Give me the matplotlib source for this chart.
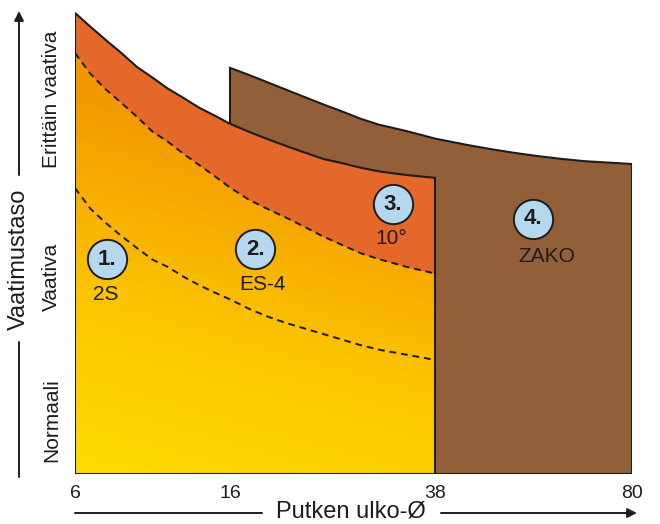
import numpy as np
import matplotlib
matplotlib.use("Agg")
from matplotlib import pyplot as plt
from matplotlib.patches import Polygon
from matplotlib.colors import LinearSegmentedColormap

plt.rcParams['font.family'] = ['Liberation Sans', 'DejaVu Sans']

# pipe outer diameter ticks and their spacing on the original axis
diam_ticks = [6, 16, 38, 80]
tick_spacing = [0, 155, 360, 557]

# left (orange) region: methods 1-3
orange_d = [6, 7, 8, 9, 10, 11, 12, 13, 14, 15, 16, 18, 20, 22, 24, 26, 28, 30, 32, 35, 38]
top_curve = [99.8, 96.8, 93.9, 91.1, 88.1, 85.8, 83.4, 81.4, 79.3, 77.6, 75.8,
             74.1, 72.5, 71.0, 69.6, 68.2, 67.3, 66.3, 65.5, 64.7, 64.1]
es4_curve = [91.1, 86.6, 83.2, 80.3, 77.3, 74.1, 71.9, 69.3, 66.9, 64.5, 62.0,
             59.4, 57.4, 55.5, 53.5, 51.4, 49.6, 47.8, 46.5, 44.8, 43.4]
s2_curve = [61.9, 57.4, 54.3, 51.5, 48.9, 46.4, 44.8, 42.7, 40.9, 39.3, 37.8,
            35.8, 34.1, 32.7, 31.5, 30.3, 29.1, 27.9, 26.9, 25.8, 24.7]

# right (brown) region: method 4
zako_d = [16, 18, 20, 22, 24, 26, 28, 30, 32, 35, 38, 42, 45, 50, 55, 60, 65, 70, 75, 80]
zako_top = [87.9, 86.4, 84.8, 83.2, 81.6, 80.0, 78.5, 76.9, 75.6, 74.2, 72.6,
            71.8, 71.2, 70.3, 69.5, 68.8, 68.2, 67.7, 67.4, 67.1]

# requirement levels
level_names = ['Normaali', 'Vaativa', 'Erittäin vaativa']
level_pos = [11.7, 42.6, 81.2]

# method markers: number, name, diameter, level
method_num = ['1.', '2.', '3.', '4.']
method_name = ['2S', 'ES-4', '10°', 'ZAKO']
method_d = [8.05, 18.7, 33.5, 58.8]
method_y = [46.5, 48.7, 58.4, 55.2]
name_d = [7.97, 19.5, 33.35, 61.8]
name_y = [38.9, 41.1, 50.9, 47.0]

ink = '#1e1c1d'


def fwd(x):
    return np.interp(x, diam_ticks, tick_spacing)


def inv(x):
    return np.interp(x, tick_spacing, diam_ticks)


fig = plt.figure(figsize=(6.6, 5.24), dpi=100)
ax = fig.add_axes([75/660, 50/524, 557/660, 462/524])
ax.set_xscale('function', functions=(fwd, inv))
ax.set_xlim(6, 80)
ax.set_ylim(0, 100)
for s in ax.spines.values():
    s.set_visible(False)

# brown ZAKO region
brown_xy = [(zako_d[0], 0)] + list(zip(zako_d, zako_top)) + [(zako_d[-1], 0)]
brown = Polygon(brown_xy, closed=True, facecolor='#935f38', edgecolor=ink,
                lw=1.5, joinstyle='miter', zorder=1)
ax.add_patch(brown)

# orange region with gradient
orange_xy = [(orange_d[0], 0)] + list(zip(orange_d, top_curve)) + [(orange_d[-1], 0)]
orange = Polygon(orange_xy, closed=True, facecolor='none', edgecolor='none', zorder=2)
ax.add_patch(orange)

ny, nx = 200, 200
u = np.linspace(0, 1, nx)[None, :] / 0.646
v = np.linspace(0, 1, ny)[:, None]
t = np.clip(0.82 * (1 - v) + 0.18 * (1 - u), 0, 1)
cmap = LinearSegmentedColormap.from_list('og', ['#ee8200', '#f39a00', '#fcc400', '#ffdc00'])
im = ax.imshow(t, cmap=cmap, vmin=0, vmax=1, origin='lower', extent=[0, 1, 0, 1],
               transform=ax.transAxes, aspect='auto', zorder=2, interpolation='bilinear')
im.set_clip_path(orange)

# 10° band
ax.fill_between(orange_d, es4_curve, top_curve, color='#e4682a', lw=0, zorder=3)

# dashed borders
ax.plot(orange_d, es4_curve, color=ink, lw=1.4, ls=(0, (3.5, 2.5)), zorder=4)
ax.plot(orange_d, s2_curve, color=ink, lw=1.4, ls=(0, (3.5, 2.5)), zorder=4)

outline = Polygon(orange_xy, closed=True, facecolor='none', edgecolor=ink,
                  lw=1.5, joinstyle='miter', zorder=4)
ax.add_patch(outline)

# method markers
ax.scatter(method_d, method_y, s=800, facecolor='#b5d8ee', edgecolor=ink,
           linewidth=1.4, zorder=5, clip_on=False)
for num, d, y in zip(method_num, method_d, method_y):
    ax.text(d, y, num, ha='center', va='center', fontsize=16, fontweight='bold',
            color=ink, zorder=6)
for name, d, y in zip(method_name, name_d, name_y):
    ax.text(d, y, name, ha='center', va='center', fontsize=15, color=ink, zorder=6)

# ticks
ax.set_xticks(diam_ticks)
ax.set_xticklabels([str(d) for d in diam_ticks])
ax.xaxis.set_minor_locator(matplotlib.ticker.NullLocator())
ax.tick_params(axis='x', length=0, pad=8, labelsize=14, labelcolor=ink)
ax.set_yticks(level_pos)
ax.set_yticklabels(level_names, rotation=90, va='center')
ax.tick_params(axis='y', length=0, pad=10, labelsize=15, labelcolor=ink)

# axis arrows and titles
arr = dict(arrowstyle='-|>', lw=1.4, color=ink, mutation_scale=14, shrinkA=0, shrinkB=0)
line = dict(arrowstyle='-', lw=1.4, color=ink, shrinkA=0, shrinkB=0)
ax.annotate('', xy=(19, 182), xytext=(19, 47), xycoords='figure pixels', arrowprops=line)
ax.annotate('', xy=(19, 513), xytext=(19, 349), xycoords='figure pixels', arrowprops=arr)
fig.text(19/660, 265/524, 'Vaatimustaso', rotation=90, ha='center', va='center',
         fontsize=17, color=ink)
ax.annotate('', xy=(262, 11), xytext=(75, 11), xycoords='figure pixels', arrowprops=line)
ax.annotate('', xy=(637, 11), xytext=(441, 11), xycoords='figure pixels', arrowprops=arr)
fig.text(351/660, 12/524, 'Putken ulko-Ø', ha='center', va='center', fontsize=17, color=ink)

fig.savefig('out.png', dpi=100)
